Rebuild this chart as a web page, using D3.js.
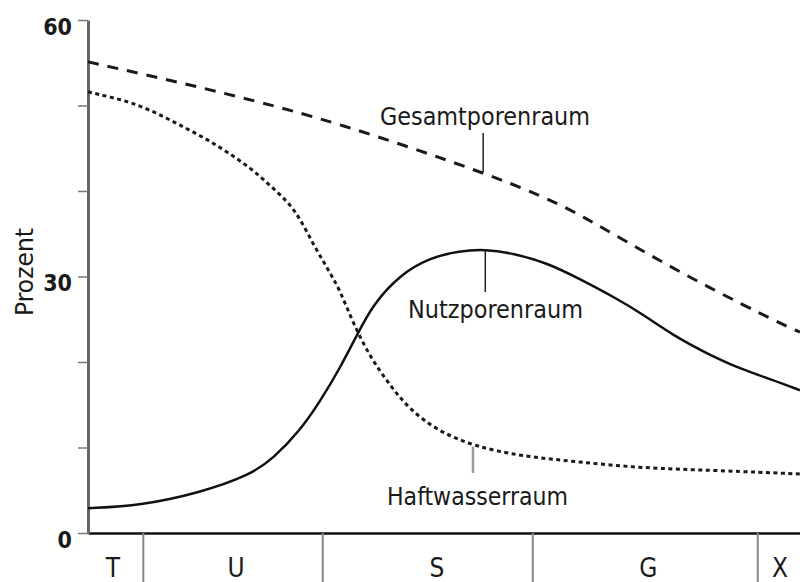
<!DOCTYPE html>
<html>
<head>
<meta charset="utf-8">
<script src="https://cdn.jsdelivr.net/npm/d3@7"></script>
<style>
  body { margin: 0; background: #fff; }
  svg text { font-family: "DejaVu Sans Condensed", "Liberation Sans Narrow", "Roboto", sans-serif; font-stretch: condensed; fill: #1a1a1a; }
</style>
</head>
<body>
<script>
// x is a relative grain size position 0..100, y in percent
var gesamtX = [0, 9.7, 20.9, 35.1, 55.5, 66.3, 74.7, 85.5, 98.2, 100];
var gesamtY = [55.1, 53.3, 51.1, 48.0, 42.2, 38.6, 34.5, 29.4, 24.1, 23.5];

var haftX = [0, 3.1, 6.3, 9.7, 12.9, 16.2, 19.5, 22.8, 25.1, 27.9, 29.8, 31.6, 33.6, 35.4, 37.2, 39.6, 42.4, 45.2, 49.4, 54.5, 60.7, 69.1, 77.5, 88.8, 100];
var haftY = [51.6, 51.0, 50.3, 49.1, 47.7, 46.3, 44.6, 42.7, 41.0, 38.9, 36.8, 33.8, 31.0, 28.4, 24.6, 20.6, 17.3, 14.4, 11.8, 10.1, 9.0, 8.3, 7.6, 7.3, 6.9];

var nutzX = [0, 7.3, 15.7, 22.8, 26.0, 29.8, 32.6, 35.4, 37.8, 40.0, 43.8, 48.0, 52.2, 55.8, 59.7, 64.5, 69.1, 74.3, 77.5, 82.2, 86.9, 91.6, 96.2, 100];
var nutzY = [2.9, 3.2, 4.7, 6.8, 8.7, 12.0, 15.4, 19.3, 23.2, 26.7, 30.2, 32.2, 33.0, 33.2, 32.7, 31.6, 29.7, 27.4, 25.8, 23.1, 21.0, 19.2, 17.9, 16.7];

var categories = ["T", "U", "S", "G", "X"];
var catBounds = [7.7, 32.9, 62.4, 94.0];
var catCenters = [3.5, 20.8, 49.0, 78.7, 97.2];
var yTicks = [0, 10, 20, 30, 40, 50, 60];
var yLabeled = [0, 30, 60];

var w = 800, h = 582;

var x = d3.scaleLinear().domain([0, 100]).range([88, 800]);
var y = d3.scaleLinear().domain([0, 60]).range([533, 20]);

var svg = d3.select("body").append("svg")
    .attr("width", w)
    .attr("height", h);

function pts(xs, ys) {
    return xs.map(function(d, i) { return [d, ys[i]]; });
}

var line = d3.line()
    .x(function(d) { return x(d[0]); })
    .y(function(d) { return y(d[1]); })
    .curve(d3.curveBasis);

// x axis with category separators
var xAxis = d3.axisBottom(x)
    .tickValues(catBounds)
    .tickSize(50)
    .tickSizeOuter(0)
    .tickFormat("");
var gx = svg.append("g")
    .attr("transform", "translate(0," + y(0) + ")")
    .call(xAxis);
gx.select(".domain").attr("stroke", "#111").attr("stroke-width", 2.5);
gx.selectAll(".tick line").attr("stroke", "#888").attr("stroke-width", 2);

svg.selectAll(".cat")
    .data(categories)
    .enter().append("text")
    .attr("class", "cat")
    .attr("x", function(d, i) { return x(catCenters[i]); })
    .attr("y", 577)
    .attr("text-anchor", "middle")
    .attr("font-size", 26)
    .text(function(d) { return d; });

// y axis
var yAxis = d3.axisLeft(y)
    .tickValues(yTicks)
    .tickSize(10)
    .tickSizeOuter(0)
    .tickFormat(function(d) { return yLabeled.indexOf(d) >= 0 ? d : ""; });
var gy = svg.append("g")
    .attr("transform", "translate(88,0)")
    .call(yAxis);
gy.select(".domain").attr("stroke", "#666").attr("stroke-width", 3);
gy.selectAll(".tick line").attr("stroke", "#777").attr("stroke-width", 1.5);
gy.selectAll(".tick text")
    .attr("x", -16)
    .attr("dy", "0.62em")
    .attr("font-size", 23)
    .attr("font-weight", "bold")
    .attr("fill", "#1a1a1a");

svg.append("text")
    .attr("transform", "translate(33,272) rotate(-90)")
    .attr("text-anchor", "middle")
    .attr("font-size", 25)
    .attr("textLength", 88).attr("lengthAdjust", "spacingAndGlyphs")
    .text("Prozent");

// curves
svg.append("path")
    .datum(pts(gesamtX, gesamtY))
    .attr("fill", "none")
    .attr("stroke", "#1a1a1a")
    .attr("stroke-width", 3)
    .attr("stroke-dasharray", "11,9")
    .attr("d", line);

svg.append("path")
    .datum(pts(haftX, haftY))
    .attr("fill", "none")
    .attr("stroke", "#1a1a1a")
    .attr("stroke-width", 3)
    .attr("stroke-dasharray", "4,3.5")
    .attr("d", line);

svg.append("path")
    .datum(pts(nutzX, nutzY))
    .attr("fill", "none")
    .attr("stroke", "#111")
    .attr("stroke-width", 2.5)
    .attr("d", line);

// labels with leader lines
svg.append("line")
    .attr("x1", x(55.5)).attr("x2", x(55.5))
    .attr("y1", 133).attr("y2", y(42.2))
    .attr("stroke", "#222").attr("stroke-width", 1.5);
svg.append("text")
    .attr("x", 380).attr("y", 125)
    .attr("font-size", 24)
    .attr("textLength", 210).attr("lengthAdjust", "spacingAndGlyphs")
    .text("Gesamtporenraum");

svg.append("line")
    .attr("x1", x(55.8)).attr("x2", x(55.8))
    .attr("y1", y(33.2)).attr("y2", 292)
    .attr("stroke", "#222").attr("stroke-width", 1.5);
svg.append("text")
    .attr("x", 408).attr("y", 318)
    .attr("font-size", 24)
    .attr("textLength", 175).attr("lengthAdjust", "spacingAndGlyphs")
    .text("Nutzporenraum");

svg.append("line")
    .attr("x1", 473).attr("x2", 473)
    .attr("y1", y(10.1)).attr("y2", 473)
    .attr("stroke", "#999").attr("stroke-width", 2.5);
svg.append("text")
    .attr("x", 387).attr("y", 505)
    .attr("font-size", 24)
    .attr("textLength", 181).attr("lengthAdjust", "spacingAndGlyphs")
    .text("Haftwasserraum");
</script>
</body>
</html>
